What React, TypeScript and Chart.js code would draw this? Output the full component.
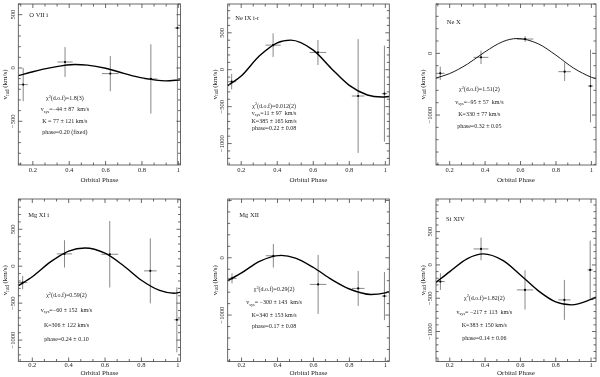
import React, { useEffect, useRef } from 'react';
import { Chart, registerables } from 'chart.js';
Chart.register(...registerables);

const W = 600;
const H = 377;
const SERIF = '"Liberation Serif", "DejaVu Serif", serif';

// ---------- data ----------
const ionNames = ['O VII i', 'Ne IX i-r', 'Ne X', 'Mg XI i', 'Mg XII', 'Si XIV'];

const obsPhase = [0.147, 0.377, 0.626, 0.849, 0.995];
const obsPhaseErr = [0.025, 0.042, 0.046, 0.035, 0.015];

const oviiV = [-156, 56, -53, -103, 375];
const oviiErr = [155, 140, 165, 325, 1500];
const neixV = [-162, 333, 234, -356, -324];
const neixErr = [105, 160, 170, 770, 650];
const nexV = [-324, -65, 232, -297, -530];
const nexErr = [108, 108, 46, 150, 590];
const mgxiV = [-221, 167, 162, -63, -725];
const mgxiErr = [90, 185, 450, 440, 440];
const mgxiiV = [-360, 35, -465, -535, -669];
const mgxiiErr = [88, 205, 515, 305, 420];
const sixivV = [-250, 240, -375, -525, -75];
const sixivErr = [125, 170, 295, 300, 440];

// fitted radial-velocity curves
const oviiFitPhase = [0.12, 0.2, 0.3, 0.43, 0.5, 0.6, 0.7, 0.8, 0.93, 1.012];
const oviiFitV = [-72, -35, 3, 33, 27, -3, -50, -93, -121, -112];
const neixFitPhase = [0.125, 0.2, 0.3, 0.4, 0.475, 0.6, 0.7, 0.8, 0.9, 0.98, 1.022];
const neixFitV = [-216, -86, 185, 365, 401, 266, 18, -212, -342, -370, -362];
const nexFitPhase = [0.123, 0.2, 0.3, 0.4, 0.5, 0.58, 0.7, 0.8, 0.9, 1.0, 1.026];
const nexFitV = [-400, -328, -175, 25, 190, 240, 155, -30, -240, -388, -411];
const mgxiFitPhase = [0.123, 0.2, 0.3, 0.4, 0.49, 0.6, 0.7, 0.8, 0.9, 0.98, 1.015];
const mgxiFitV = [-263, -143, 58, 205, 247, 176, 10, -190, -328, -365, -351];
const mgxiiFitPhase = [0.123, 0.2, 0.3, 0.42, 0.5, 0.6, 0.7, 0.8, 0.92, 1.0, 1.022];
const mgxiiFitV = [-400, -265, -62, 42, -6, -170, -378, -545, -640, -612, -590];
const sixivFitPhase = [0.122, 0.2, 0.3, 0.39, 0.5, 0.6, 0.7, 0.8, 0.89, 1.0, 1.028];
const sixivFitV = [-262, -100, 95, 166, 68, -150, -385, -555, -600, -518, -485];

// axis ranges and tick labels
const xRanges = [[0.12, 1.012], [0.125, 1.022], [0.123, 1.026], [0.123, 1.015], [0.123, 1.022], [0.122, 1.028]];
const yRanges = [[-910, 600], [-1290, 890], [-1810, 800], [-1290, 910], [-1810, 1025], [-1450, 990]];
const xTickLabels = [0.2, 0.4, 0.6, 0.8, 1];
const yTicksP1 = [500, 0, -500];
const yTicksP2 = [500, 0, -500, -1000];
const yTicksP3 = [0, -1000];
const yTicksP4 = [500, 0, -500, -1000];
const yTicksP5 = [0, -1000];
const yTicksP6 = [500, 0, -500, -1000];

// fit result annotations
const fitChi = ['1.8(3)', '0.012(2)', '1.51(2)', '0.59(2)', '0.29(2)', '1.82(2)'];
const fitVsys = ['=−44 ± 87  km/s', '=11 ± 97  km/s', '=−95 ± 57  km/s', '=−60 ± 152  km/s', '= −300 ± 143  km/s', '= −217 ± 113  km/s'];
const fitK = ['K = 77 ± 121 km/s', 'K=385 ± 165 km/s', 'K=330 ± 77 km/s', 'K=306 ± 122 km/s', 'K=340 ± 153 km/s', 'K=383 ± 150 km/s'];
const fitPh = ['phase=0.20 (fixed)', 'phase=0.22 ± 0.08', 'phase=0.32 ± 0.05', 'phase=0.24 ± 0.10', 'phase=0.17 ± 0.08', 'phase=0.14 ± 0.06'];

// ---------- layout (pixels / fractions) ----------
const AREAS = [
  { l: 18.3, r: 180.5, t: 4, b: 165 },
  { l: 227.7, r: 389.3, t: 4, b: 165 },
  { l: 436, r: 597, t: 4, b: 165 },
  { l: 18.3, r: 180.5, t: 199, b: 361.5 },
  { l: 227.7, r: 389.3, t: 199, b: 361.5 },
  { l: 436, r: 597, t: 199, b: 361.5 },
];
const NAME_POS = [[0.068, 0.068], [0.047, 0.089], [0.067, 0.115], [0.061, 0.098], [0.072, 0.098], [0.063, 0.122]];
const ANN_CX = [0.287, 0.287, 0.271, 0.297, 0.287, 0.302];
const ANN_Y = [
  [0.588, 0.656, 0.728, 0.8],
  [0.635, 0.68, 0.728, 0.773],
  [0.532, 0.61, 0.687, 0.763],
  [0.596, 0.684, 0.776, 0.867],
  [0.557, 0.639, 0.716, 0.784],
  [0.612, 0.698, 0.78, 0.857],
];
const ROW_OFF = [{ lab: 5.5, title: 15 }, { lab: 4, title: 11.5 }];

const panels = [
  { v: oviiV, e: oviiErr, fp: oviiFitPhase, fv: oviiFitV, yt: yTicksP1, ym: 100, lw: 1.4 },
  { v: neixV, e: neixErr, fp: neixFitPhase, fv: neixFitV, yt: yTicksP2, ym: 100, lw: 1.4 },
  { v: nexV, e: nexErr, fp: nexFitPhase, fv: nexFitV, yt: yTicksP3, ym: 200, lw: 0.9 },
  { v: mgxiV, e: mgxiErr, fp: mgxiFitPhase, fv: mgxiFitV, yt: yTicksP4, ym: 100, lw: 1.4 },
  { v: mgxiiV, e: mgxiiErr, fp: mgxiiFitPhase, fv: mgxiiFitV, yt: yTicksP5, ym: 200, lw: 1.4 },
  { v: sixivV, e: sixivErr, fp: sixivFitPhase, fv: sixivFitV, yt: yTicksP6, ym: 100, lw: 1.4 },
];

// ---------- rich text helpers ----------
type Seg = { t: string; m: number };
function parseRich(s: string): Seg[] {
  const out: Seg[] = [];
  const re = /([_^])\{([^}]*)\}/g;
  let last = 0;
  let m: RegExpExecArray | null;
  while ((m = re.exec(s))) {
    if (m.index > last) out.push({ t: s.slice(last, m.index), m: 0 });
    out.push({ t: m[2], m: m[1] === '^' ? 1 : -1 });
    last = re.lastIndex;
  }
  if (last < s.length) out.push({ t: s.slice(last), m: 0 });
  return out;
}
function drawRich(ctx: CanvasRenderingContext2D, s: string, x: number, y: number, size: number, align: 'center' | 'left') {
  const segs = parseRich(s);
  const fontFor = (m: number) => `${m ? size * 0.72 : size}px ${SERIF}`;
  let w = 0;
  for (const sg of segs) {
    ctx.font = fontFor(sg.m);
    w += ctx.measureText(sg.t).width;
  }
  let cx = align === 'center' ? x - w / 2 : x;
  ctx.textAlign = 'left';
  ctx.textBaseline = 'middle';
  for (const sg of segs) {
    ctx.font = fontFor(sg.m);
    const dy = sg.m === 1 ? -size * 0.35 : sg.m === -1 ? size * 0.3 : 0;
    ctx.fillText(sg.t, cx, y + dy);
    cx += ctx.measureText(sg.t).width;
  }
}

function fmtTick(v: number) {
  return v < 0 ? '−' + String(-v) : String(v);
}

function Panel({ idx }: { idx: number }) {
  const ref = useRef<HTMLCanvasElement>(null);
  useEffect(() => {
    const p = panels[idx];
    const a = AREAS[idx];
    const [xmin, xmax] = xRanges[idx];
    const [ymin, ymax] = yRanges[idx];
    const row = idx < 3 ? 0 : 1;

    const overlay = {
      id: 'overlay' + idx,
      beforeDatasetsDraw(chart: any) {
        const ctx = chart.ctx as CanvasRenderingContext2D;
        const xs = chart.scales.x;
        const ys = chart.scales.y;
        const ca = chart.chartArea;
        ctx.save();
        ctx.beginPath();
        ctx.rect(ca.left, ca.top, ca.right - ca.left, ca.bottom - ca.top);
        ctx.clip();
        ctx.strokeStyle = '#6a6a6a';
        ctx.lineWidth = 0.8;
        for (let i = 0; i < obsPhase.length; i++) {
          const x = xs.getPixelForValue(obsPhase[i]);
          const y = ys.getPixelForValue(p.v[i]);
          const y1 = ys.getPixelForValue(p.v[i] + p.e[i]);
          const y2 = ys.getPixelForValue(p.v[i] - p.e[i]);
          const x1 = xs.getPixelForValue(obsPhase[i] - obsPhaseErr[i]);
          const x2 = xs.getPixelForValue(obsPhase[i] + obsPhaseErr[i]);
          ctx.beginPath();
          ctx.moveTo(x, y1);
          ctx.lineTo(x, y2);
          ctx.moveTo(x1, y);
          ctx.lineTo(x2, y);
          ctx.stroke();
        }
        ctx.restore();
      },
      afterDraw(chart: any) {
        const ctx = chart.ctx as CanvasRenderingContext2D;
        const xs = chart.scales.x;
        const ys = chart.scales.y;
        const ca = chart.chartArea;
        const L = ca.left, R = ca.right, T = ca.top, B = ca.bottom;
        ctx.save();
        // frame
        ctx.strokeStyle = '#444';
        ctx.lineWidth = 0.8;
        ctx.strokeRect(L, T, R - L, B - T);
        // x ticks
        ctx.beginPath();
        const xStepMinor = 0.2 / 3;
        for (let k = Math.ceil(xmin / xStepMinor - 1e-6); k * xStepMinor <= xmax + 1e-9; k++) {
          const v = k * xStepMinor;
          const isMajor = k % 3 === 0;
          const len = isMajor ? 4 : 2.5;
          const px = xs.getPixelForValue(v);
          ctx.moveTo(px, B);
          ctx.lineTo(px, B - len);
          ctx.moveTo(px, T);
          ctx.lineTo(px, T + len);
        }
        // y ticks
        const ymStep = p.ym;
        const majorEvery = p.yt.length > 1 ? Math.abs(p.yt[0] - p.yt[1]) : 500;
        for (let v = Math.ceil(ymin / ymStep) * ymStep; v <= ymax; v += ymStep) {
          const isMajor = Math.abs(v % majorEvery) < 1e-6;
          const len = isMajor ? 4 : 2.5;
          const py = ys.getPixelForValue(v);
          ctx.moveTo(L, py);
          ctx.lineTo(L + len, py);
          ctx.moveTo(R, py);
          ctx.lineTo(R - len, py);
        }
        ctx.stroke();

        ctx.fillStyle = '#222';
        // x tick labels
        ctx.font = `6.5px ${SERIF}`;
        ctx.textAlign = 'center';
        ctx.textBaseline = 'middle';
        for (const v of xTickLabels) {
          ctx.fillText(String(v), xs.getPixelForValue(v), B + ROW_OFF[row].lab);
        }
        // x title
        ctx.font = `7px ${SERIF}`;
        ctx.fillText('Orbital Phase', (L + R) / 2, B + ROW_OFF[row].title);
        // y tick labels (rotated)
        for (const v of p.yt) {
          const py = ys.getPixelForValue(v);
          ctx.save();
          ctx.translate(L - 5.5, py);
          ctx.rotate(-Math.PI / 2);
          ctx.font = `6.5px ${SERIF}`;
          ctx.textAlign = 'center';
          ctx.textBaseline = 'middle';
          ctx.fillText(fmtTick(v), 0, 0);
          ctx.restore();
        }
        // y title
        ctx.save();
        ctx.translate(L - 13, (T + B) / 2);
        ctx.rotate(-Math.PI / 2);
        drawRich(ctx, 'v_{rad} (km/s)', 0, 0, 7, 'center');
        ctx.restore();
        // ion name
        const wA = R - L, hA = B - T;
        drawRich(ctx, ionNames[idx], L + NAME_POS[idx][0] * wA, T + NAME_POS[idx][1] * hA, 6.5, 'left');
        // fit annotations
        const cx = L + ANN_CX[idx] * wA;
        const lines = [
          'χ^{2}(d.o.f)=' + fitChi[idx],
          'v_{sys}' + fitVsys[idx],
          fitK[idx],
          fitPh[idx],
        ];
        lines.forEach((s, j) => drawRich(ctx, s, cx, T + ANN_Y[idx][j] * hA, 6, 'center'));
        ctx.restore();
      },
    };

    const chart = new Chart(ref.current as HTMLCanvasElement, {
      type: 'scatter',
      data: {
        datasets: [
          {
            data: p.fp.map((x, i) => ({ x, y: p.fv[i] })),
            showLine: true,
            borderColor: '#000',
            borderWidth: p.lw,
            pointRadius: 0,
            cubicInterpolationMode: 'monotone',
            fill: false,
          } as any,
          {
            data: obsPhase.map((x, i) => ({ x, y: p.v[i] })),
            showLine: false,
            pointRadius: 1.1,
            pointBackgroundColor: '#000',
            pointBorderColor: '#000',
            pointBorderWidth: 0,
          } as any,
        ],
      },
      options: {
        animation: false,
        responsive: false,
        maintainAspectRatio: false,
        devicePixelRatio: 1,
        layout: { padding: { left: a.l, top: a.t, right: W - a.r, bottom: H - a.b } },
        scales: {
          x: { type: 'linear', min: xmin, max: xmax, display: false },
          y: { type: 'linear', min: ymin, max: ymax, display: false },
        },
        plugins: { legend: { display: false }, tooltip: { enabled: false } },
        events: [],
      },
      plugins: [overlay],
    });
    return () => chart.destroy();
  }, [idx]);
  return <canvas ref={ref} width={W} height={H} style={{ position: 'absolute', left: 0, top: 0, width: W, height: H }} />;
}

export default function App() {
  return (
    <div style={{ position: 'absolute', left: 0, top: 0, width: W, height: H, background: '#fff', overflow: 'hidden' }}>
      {panels.map((_, i) => (
        <Panel key={i} idx={i} />
      ))}
    </div>
  );
}
